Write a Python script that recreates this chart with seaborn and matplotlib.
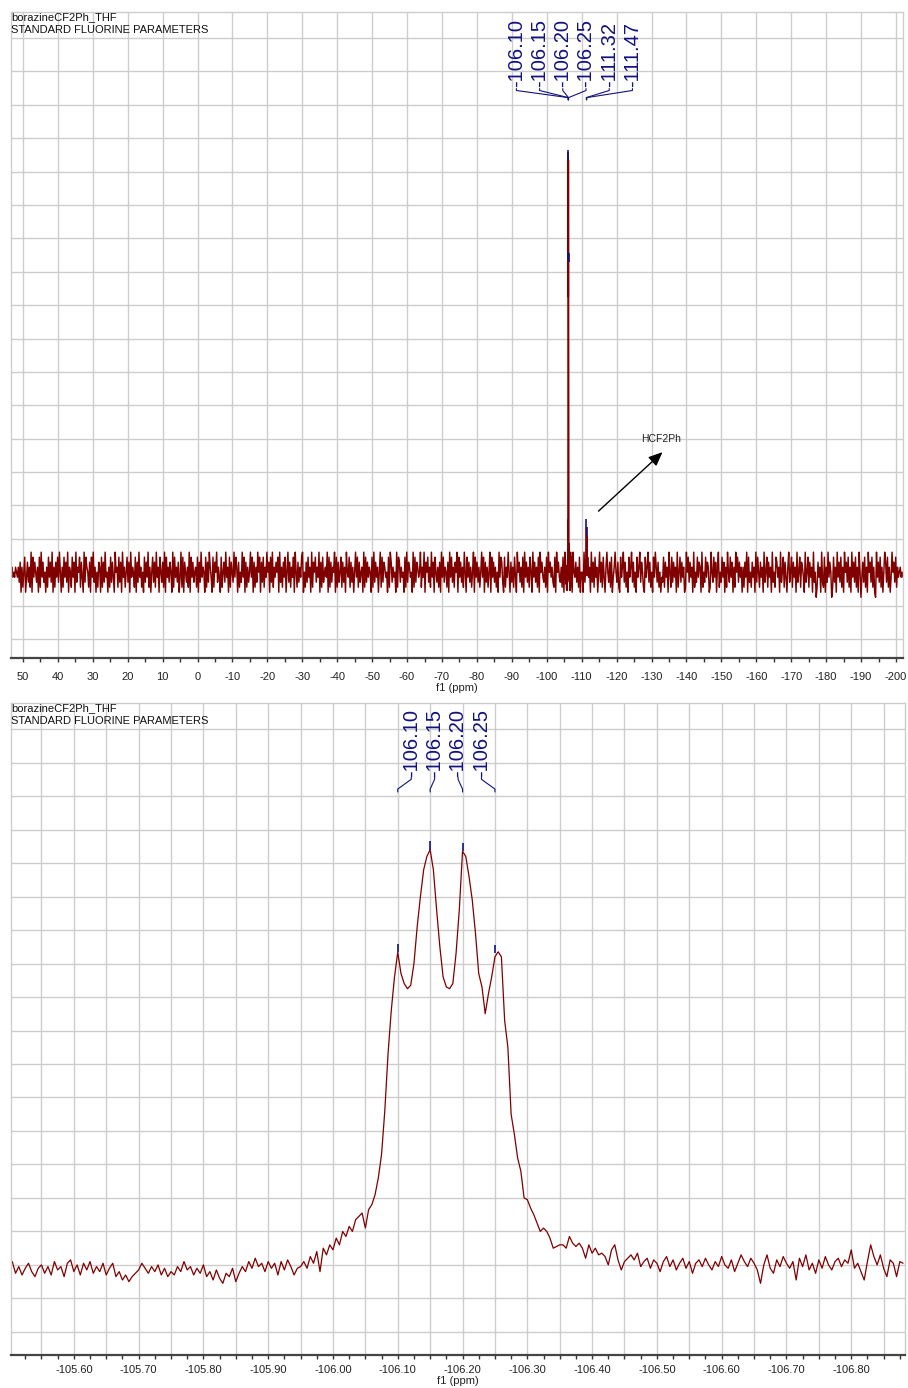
import numpy as np
import pandas as pd
import matplotlib
matplotlib.use("Agg")
import matplotlib.pyplot as plt
import seaborn as sns
from matplotlib.ticker import MultipleLocator, FuncFormatter
from matplotlib.transforms import blended_transform_factory, offset_copy

# header texts
sample_name = "borazineCF2Ph_THF"
experiment = "STANDARD FLUORINE PARAMETERS"
axis_label = "f1 (ppm)"
hcf2ph_label = "HCF2Ph"

# picked peaks (ppm) and their heights (1 unit = one grid row)
peaks_ppm = [-106.10, -106.15, -106.20, -106.25, -111.32, -111.47]
peaks_height = [9.34, 12.40, 12.35, 9.30, 1.33, 1.09]

# zoomed trace: -105.505 ... -106.880 ppm, step 0.005 ppm
zoom_start, zoom_step = -105.505, -0.005
zoom_intensity = [
    0.10, -0.25, -0.05, -0.30, -0.10, 0.05, -0.20, -0.35, -0.10, 0.00,
    -0.25, -0.05, -0.30, 0.10, -0.15, -0.05, -0.35, 0.05, 0.15, -0.20,
    0.00, -0.30, 0.05, -0.15, 0.10, -0.25, -0.05, -0.20, 0.05, -0.30,
    -0.10, 0.05, -0.35, -0.20, -0.45, -0.30, -0.50, -0.35, -0.25, -0.15,
    0.05, -0.10, -0.25, -0.05, -0.20, 0.00, -0.30, -0.10, -0.35, -0.20,
    -0.30, -0.05, -0.20, 0.10, -0.15, -0.05, -0.30, -0.10, -0.25, 0.00,
    -0.35, -0.20, -0.45, -0.15, -0.40, -0.55, -0.25, -0.35, -0.10, -0.50,
    -0.25, -0.05, -0.20, 0.10, -0.10, 0.20, -0.05, 0.05, -0.20, 0.10,
    -0.10, 0.05, -0.30, 0.10, -0.15, 0.15, -0.05, -0.30, -0.10,
    -0.05, 0.10, -0.10, 0.25, 0.05, 0.40, -0.20, 0.50, 0.30, 0.60,
    0.45, 0.80, 0.60, 1.00, 0.85, 1.15, 1.00, 1.35, 1.45, 1.55,
    1.10, 1.65, 1.80, 2.10, 2.60, 3.30, 4.60, 6.30, 7.60, 8.60,
    9.34, 8.70, 8.40, 8.25, 8.35, 9.00, 10.10, 11.00, 11.80, 12.20,
    12.40, 11.80, 10.60, 9.50, 8.60, 8.30, 8.25, 8.40, 9.30, 10.60,
    12.35, 12.20, 11.60, 10.90, 9.90, 8.70, 8.30, 7.50, 8.10, 8.60,
    9.20, 9.35, 9.20, 7.30, 6.50, 4.50, 3.90, 3.20, 2.80, 2.00,
    1.95, 1.70, 1.50, 1.25, 1.00, 1.10, 1.00, 0.80, 0.50, 0.55,
    0.60, 0.60, 0.50, 0.85, 0.65, 0.55, 0.65, 0.50, 0.20, 0.60,
    0.35, 0.50, 0.30, 0.35, 0.25, 0.00, 0.45, 0.60, 0.15, -0.15,
    0.10, 0.20, 0.30, 0.15, 0.35, -0.05, 0.10,
    0.20, -0.10, 0.15, 0.05, -0.20, 0.10, 0.25, -0.05, 0.15, -0.15,
    0.05, 0.20, -0.10, 0.10, -0.25, 0.05, 0.15, -0.05, 0.20, 0.00,
    -0.15, 0.10, -0.05, 0.25, 0.00, -0.10, 0.15, -0.20, 0.05, 0.30,
    0.10, -0.05, 0.20, 0.05, -0.15, -0.55, 0.00, 0.30, -0.10, -0.25,
    0.15, -0.05, 0.25, 0.05, -0.10, 0.10, -0.45, 0.20, -0.05, 0.30,
    -0.15, 0.05, -0.25, 0.15, -0.10, 0.25, 0.00, -0.15, 0.10, 0.20,
    -0.05, 0.15, 0.05, 0.45, -0.10, 0.05, -0.20, -0.45, 0.10, 0.60,
    0.25, 0.00, 0.30, -0.10, -0.35, 0.15, 0.05, -0.35, 0.10, 0.05,
]

# full-range trace 53.4 ... -202 ppm: baseline noise, one digit per point (5 = baseline)
full_start, full_stop = 53.4, -202.0
full_noise_rows = [
    "5645465463716258147362918475361829473516284739162748395162847391652847193658274193865271849361527",
    "6182739451628374195628371946258371946528173946251837492615837294618537291846375192846371",
    "4928175362918473562817394651827396418275936418257394618275394861725394817263594817263958",
    "1738264957183926475819362748159372648195273648915273846192758364917283564918273659182735",
    "8273619548273615948273561928374651829374615928376451829736451928736451829376451928376459",
    "2649175836294718536271948365271948362759184736295184736259184736259481736259184736251948",
    "7318264951736284195736281947362851947362819574362819574632819574362819547362819547362815",
    "5193728461937284615937284169537281469537218469372518469372518469375218469372518496372514",
    "3827461952837461925837461295837461925384761925384761295384716925384716295384716295837461",
    "6274918352746193852746193582746193528746193582741693582746193582764193582746193502746193",
    "2816394750283619473826195738261947382619504738261957382610947382615973826149573826456454",
]
# HCF2Ph lines in the full trace
minor_ppm = [-111.25, -111.32, -111.40, -111.47, -111.55]
minor_intensity = [0.10, 1.33, 0.30, 1.09, -0.10]

line_color = "#800000"
label_color = "#12127f"
grid_color = "#cdcdcd"

sns.set_theme(style="white")
plt.rcParams["font.family"] = ["Liberation Sans", "DejaVu Sans"]
plt.rcParams["axes.unicode_minus"] = False

# build data frames
zoom_df = pd.DataFrame({
    "ppm": zoom_start + zoom_step * np.arange(len(zoom_intensity)),
    "intensity": zoom_intensity,
})
noise_vals = [(int(c) - 5) * 0.15 for row in full_noise_rows for c in row]
noise_df = pd.DataFrame({
    "ppm": np.linspace(full_start, full_stop, len(noise_vals)),
    "intensity": noise_vals,
})
zmin, zmax = zoom_df["ppm"].min(), zoom_df["ppm"].max()
keep = ~noise_df["ppm"].between(zmin, zmax) & ~noise_df["ppm"].between(min(minor_ppm), max(minor_ppm))
full_df = pd.concat([noise_df[keep], zoom_df,
                     pd.DataFrame({"ppm": minor_ppm, "intensity": minor_intensity})])
full_df = full_df.sort_values("ppm").reset_index(drop=True)

fig = plt.figure(figsize=(9.08, 13.88), dpi=100)
ax_full = fig.add_axes([11 / 908, 1 - 658 / 1388, 892 / 908, 646 / 1388])
ax_zoom = fig.add_axes([11 / 908, 1 - 1355 / 1388, 894 / 908, 652 / 1388])


def fmt_full(v, pos):
    return f"{int(round(v))}"


def fmt_zoom(v, pos):
    return f"{v:.2f}" if abs(round(v * 100)) % 10 == 0 else ""


def style_axes(ax, xlim, ylim, major, minor, fmt, pad):
    ax.set_xlim(*xlim)
    ax.set_ylim(*ylim)
    ax.xaxis.set_major_locator(MultipleLocator(major))
    ax.xaxis.set_minor_locator(MultipleLocator(minor))
    ax.xaxis.set_major_formatter(FuncFormatter(fmt))
    ax.grid(False)
    # grid lines only at the major x ticks and at every y unit
    lo, hi = sorted(xlim)
    for t in ax.get_xticks():
        if lo <= t <= hi:
            ax.axvline(t, color=grid_color, lw=1.0, zorder=0)
    for t in np.arange(np.ceil(ylim[0]), ylim[1]):
        ax.axhline(t, color=grid_color, lw=1.0, zorder=0)
    ax.tick_params(axis="y", left=False, labelleft=False)
    ax.tick_params(axis="x", which="both", bottom=True, direction="out", length=3,
                   width=1, color="#333333", labelsize=8, pad=pad, labelcolor="#222222")
    for s in ["left", "right", "top"]:
        ax.spines[s].set_color(grid_color)
        ax.spines[s].set_linewidth(1.0)
    ax.spines["bottom"].set_color("#444444")
    ax.spines["bottom"].set_linewidth(1.6)
    ax.set_xlabel(axis_label, fontsize=8, labelpad=1, color="#222222")
    ax.set_ylabel("")


def peak_labels(ax, ppms, heights, y_text, y_corner, y_peak, y_end, spacing_px):
    ax.vlines(ppms, heights, np.array(heights) + 0.25, color=label_color, lw=1.2, zorder=4)
    x0, x1 = ax.get_xlim()
    width_px = ax.get_position().width * fig.get_figwidth() * fig.dpi
    step = spacing_px * (x0 - x1) / width_px
    trans = blended_transform_factory(ax.transData, ax.transAxes)
    n = len(ppms)
    center = np.mean(ppms)
    for k, p in enumerate(ppms):
        lx = center - (k - (n - 1) / 2) * step
        ax.text(lx, y_text, f"{p:.2f}", rotation=90, ha="center", va="bottom",
                fontsize=14.5, color=label_color, transform=trans)
        ax.plot([lx, lx, p, p], [y_corner + 0.003, y_corner, y_peak, y_end],
                color=label_color, lw=0.8, transform=trans, clip_on=False)


# full spectrum
sns.lineplot(data=full_df, x="ppm", y="intensity", ax=ax_full, color=line_color,
             lw=1.05, estimator=None, errorbar=None)
style_axes(ax_full, (full_start, full_stop), (-2.57, 16.78), 10, 5, fmt_full, 7)
peak_labels(ax_full, peaks_ppm, peaks_height, 0.8840, 0.8785, 0.8675, 0.8640, 23.2)

hcf_ppm, hcf_h = np.mean(minor_ppm[1:4:2]), 1.08
tail = offset_copy(ax_full.transData, fig=fig, x=8.6, y=18.0, units="points")
head = offset_copy(ax_full.transData, fig=fig, x=54.7, y=60.5, units="points")
txt = offset_copy(ax_full.transData, fig=fig, x=53.3, y=69.8, units="points")
ax_full.annotate("", xy=(hcf_ppm, hcf_h), xycoords=head, xytext=(hcf_ppm, hcf_h),
                 textcoords=tail,
                 arrowprops=dict(arrowstyle="-|>,head_length=0.7,head_width=0.3",
                                 color="black", lw=1.0, shrinkA=0, shrinkB=0))
ax_full.text(hcf_ppm, hcf_h, hcf2ph_label, transform=txt, ha="center", va="center",
             fontsize=7.5, color="#222222")

# zoomed multiplet
sns.lineplot(data=zoom_df, x="ppm", y="intensity", ax=ax_zoom, color=line_color,
             lw=0.9, estimator=None, errorbar=None)
zoom_xlim = (-105.503, -106.883)
style_axes(ax_zoom, zoom_xlim, (-2.69, 16.78), 0.05, 0.025, fmt_zoom, 4)
peak_labels(ax_zoom, peaks_ppm[:4], peaks_height[:4], 0.8865, 0.8830, 0.8680, 0.8635, 23.4)

for y0 in (17, 703 + 5):
    fig.text(11 / 908, 1 - y0 / 1388, sample_name, fontsize=8, va="center", ha="left",
             color="#111111")
    fig.text(11 / 908, 1 - (y0 + 13) / 1388, experiment, fontsize=8, va="center",
             ha="left", color="#111111")

fig.savefig("out.png", dpi=100)
